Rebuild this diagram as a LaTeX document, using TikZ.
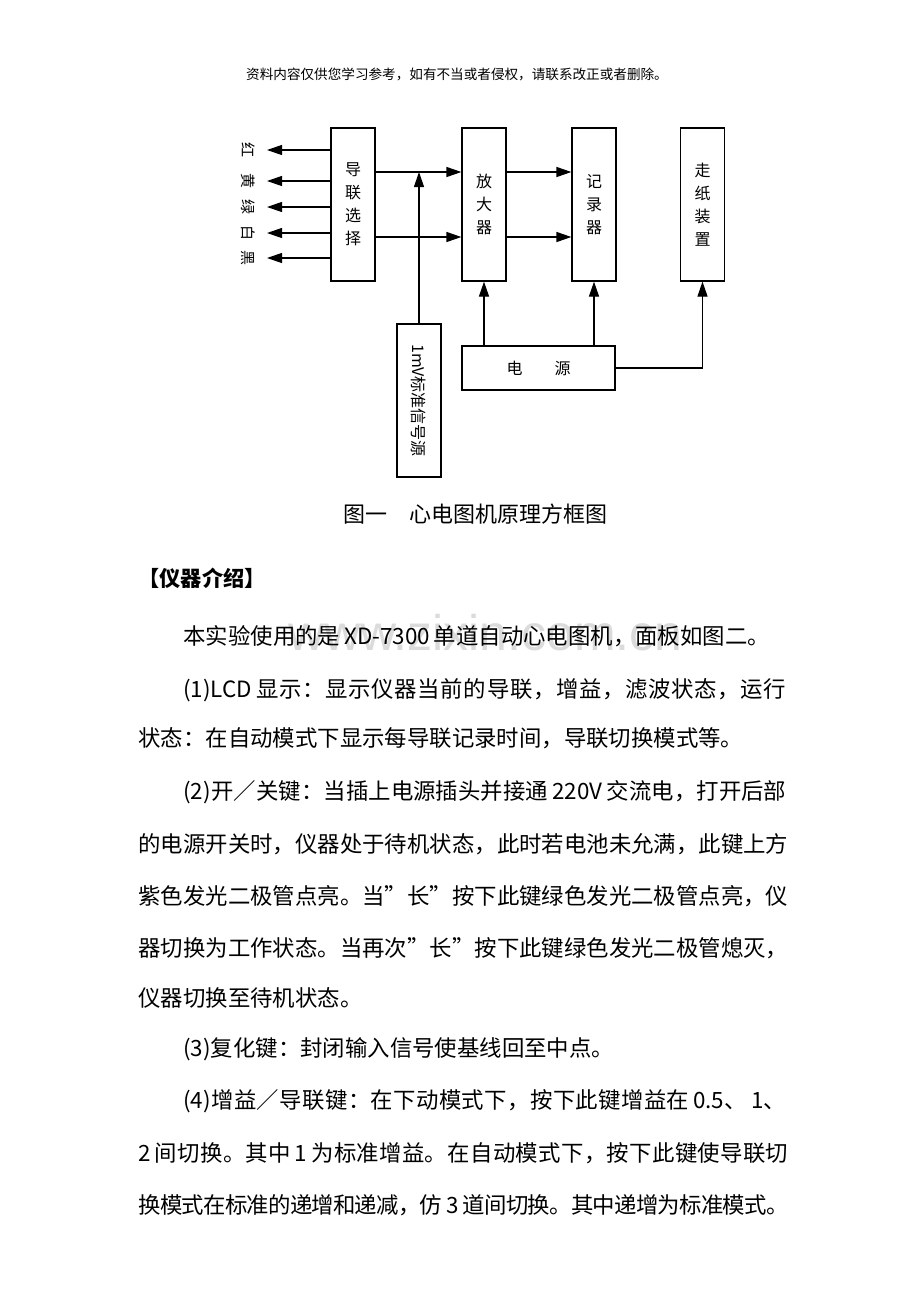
\documentclass[tikz,border=0pt]{standalone}
\usepackage{fontspec}
\setmainfont{Noto Sans CJK SC}
\newfontfamily\wmfont{Liberation Sans}
\usetikzlibrary{arrows.meta,calc}
% glue between Chinese characters, so that full lines can be justified
\newcommand{\cjkglue}{\hskip0pt plus 1pt minus 0.8pt\relax}
\newXeTeXintercharclass\hanzicls
\count255="4E00
\loop
  \XeTeXcharclass\count255=\hanzicls
  \ifnum\count255<"9FFF \advance\count255 by 1 \repeat
\XeTeXcharclass"3001=\hanzicls
\XeTeXcharclass"3002=\hanzicls
\XeTeXcharclass"FF0C=\hanzicls
\XeTeXcharclass"FF1A=\hanzicls
\XeTeXcharclass"FF0F=\hanzicls
\XeTeXcharclass"201D=\hanzicls
\XeTeXinterchartoks\hanzicls\hanzicls={\cjkglue}
\XeTeXinterchartoks 0 \hanzicls={\cjkglue}
\XeTeXinterchartoks\hanzicls 0 ={\cjkglue}
\XeTeXinterchartokenstate=1

\tikzset{
  blk/.style={draw, line width=0.6pt, minimum width=22pt, minimum height=76.5pt,
    inner sep=0pt, align=center, font=\fontsize{8}{11.5}\selectfont},
  lbl/.style={inner sep=0pt, rotate=-90, text height=6.5pt, text depth=1pt,
    font=\fontsize{7.5}{7.5}\selectfont},
  arr/.style={line width=0.6pt, -{Triangle[length=7.5pt,width=5pt]}},
  txt/.style={anchor=west, inner sep=0pt, text height=9.9pt, text depth=1.3pt,
    font=\fontsize{11.2}{11.2}\selectfont},
}
\newcommand{\wline}[1]{\makebox[325pt][s]{#1}}
\newcommand{\iline}[1]{\makebox[301.5pt][s]{#1}}
\newcommand{\gap}{\hspace{2pt}}

\begin{document}
\begin{tikzpicture}[x=0.5pt,y=-0.5pt]
\useasboundingbox[fill=white] (0,0) rectangle (920,1302);
% watermark
\node[text=black!14, inner sep=0pt, anchor=base east, font=\wmfont\fontsize{25}{25}\selectfont] (wm) at (683,650) {www.zixin.com.cn};
\node[font=\fontsize{6.8}{6.8}\selectfont] (hdr) at (457,74) {资料内容仅供您学习参考，如有不当或者侵权，请联系改正或者删除。};
% block diagram
\path
(353,204.5) node[blk] (sel) {导\\联\\选\\择}
(484,204.5) node[blk] (amp) {放\\大\\器}
(594,204.5) node[blk] (rec) {记\\录\\器}
(702.5,204.5) node[blk] (feed) {走\\纸\\装\\置}
(419,400.5) node[blk] (cal) {\rotatebox{-90}{1mV标准信号源}}
(538.5,368) node[blk, minimum width=76.5pt, minimum height=22pt] (pwr) {电　　源};
\coordinate (u) at (0,172);
\coordinate (l) at (0,237);
\foreach \col/\yy [count=\i] in {红/150,黄/181,绿/207,白/233,黑/258}{
  \node[lbl] (lead\i) at (248,\yy) {\col};
  \coordinate (tip\i) at (267,\yy);
  \draw[arr] (sel.west |- tip\i) -- (tip\i);
}
\draw[arr] (sel.east |- u) -- (amp.west |- u);
\draw[arr] (sel.east |- l) -- (amp.west |- l);
\draw[arr] (amp.east |- u) -- (rec.west |- u);
\draw[arr] (amp.east |- l) -- (rec.west |- l);
\draw[arr] (cal.north) -- (cal.north |- u);
\draw[arr] (pwr.north -| amp) -- (amp.south);
\draw[arr] (pwr.north -| rec) -- (rec.south);
\draw[arr] (pwr.east) -| (feed.south);
\node[font=\fontsize{11}{11}\selectfont] (cap) at (475,514) {图一　心电图机原理方框图};
% text below
\path
(138,578) node[txt, font=\bfseries\fontsize{10.6}{10.6}\selectfont] (head) {【仪器介绍】}
(183,636) node[txt] (p0) {本实验使用的是\gap XD-7300\gap 单道自动心电图机，面板如图二。}
(183,689) node[txt] (p1a) {\iline{(1)LCD\gap 显示：显示仪器当前的导联，增益，滤波状态，运行}}
(138,738) node[txt] (p1b) {状态：在自动模式下显示每导联记录时间，导联切换模式等。}
(183,791) node[txt] (p2a) {\iline{(2)开／关键：当插上电源插头并接通\gap 220V\gap 交流电，打开后部}}
(138,844) node[txt] (p2b) {\wline{的电源开关时，仪器处于待机状态，此时若电池未允满，此键上方}}
(138,896) node[txt] (p2c) {\wline{紫色发光二极管点亮。当”长”按下此键绿色发光二极管点亮，仪}}
(138,948) node[txt] (p2d) {\wline{器切换为工作状态。当再次”长”按下此键绿色发光二极管熄灭，}}
(138,998) node[txt] (p2e) {仪器切换至待机状态。}
(183,1048) node[txt] (p3) {(3)复化键：封闭输入信号使基线回至中点。}
(183,1100) node[txt] (p4a) {\iline{(4)增益／导联键：在下动模式下，按下此键增益在\gap 0.5、\gap 1、}}
(138,1153) node[txt] (p4b) {\wline{2\gap 间切换。其中\gap 1\gap 为标准增益。在自动模式下，按下此键使导联切}}
(138,1205) node[txt] (p4c) {\wline{换模式在标准的递增和递减，仿\gap 3\gap 道间切换。其中递增为标准模式。}};
\end{tikzpicture}
\end{document}
